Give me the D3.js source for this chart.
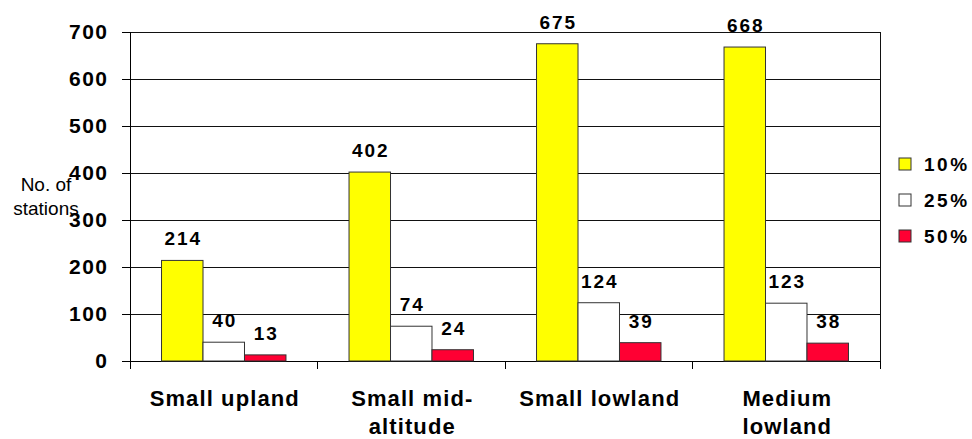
<!DOCTYPE html>
<html><head><meta charset="utf-8">
<script src="https://cdn.jsdelivr.net/npm/d3@7"></script>
<style>body{margin:0;background:#fff;}svg{display:block;font-family:"Liberation Sans",Arial,sans-serif;}</style>
</head><body>
<svg id="chart" width="972" height="439"></svg>
<script>
const categories = [["Small upland"], ["Small mid-", "altitude"], ["Small lowland"], ["Medium", "lowland"]];
const seriesNames = ["10%", "25%", "50%"];
const values10 = [214, 402, 675, 668];
const values25 = [40, 74, 124, 123];
const values50 = [13, 24, 39, 38];
const yTicks = [0, 100, 200, 300, 400, 500, 600, 700];
const colors = ["#FFFF00", "#FFFFFF", "#FF0033"];

const series = [values10, values25, values50];
const svg = d3.select("#chart");
const m = {l: 130, r: 880, t: 32, b: 361};

const x = d3.scaleBand().domain(d3.range(categories.length)).range([m.l, m.r]).paddingInner(0).paddingOuter(0);
const xi = d3.scaleBand().domain(d3.range(series.length)).range([0, x.bandwidth()]).paddingInner(0).paddingOuter(0.76);
const y = d3.scaleLinear().domain([0, 700]).range([m.b, m.t]);

// gridlines
svg.append("g").selectAll("line").data(yTicks.filter(d => d > 0)).join("line")
  .attr("x1", m.l).attr("x2", m.r).attr("y1", d => y(d)).attr("y2", d => y(d))
  .attr("stroke", "#111").attr("stroke-width", 1).attr("shape-rendering", "crispEdges");
// right border
svg.append("line").attr("x1", m.r).attr("x2", m.r).attr("y1", m.t).attr("y2", m.b)
  .attr("stroke", "#111").attr("shape-rendering", "crispEdges");

// y axis
const yAxis = d3.axisLeft(y).tickValues(yTicks).tickSize(8).tickPadding(13.5).tickFormat(d3.format("d"));
const gy = svg.append("g").attr("transform", `translate(${m.l},0)`).call(yAxis);
gy.select(".domain").attr("stroke", "#000").attr("shape-rendering", "crispEdges");
gy.selectAll(".tick line").attr("stroke", "#000").attr("shape-rendering", "crispEdges");
gy.selectAll("text").attr("font-size", 21).attr("font-weight", "bold").attr("fill", "#000")
  .attr("font-family", "Liberation Sans, Arial, sans-serif").style("letter-spacing", "1.5px");

// x axis
const gx = svg.append("g").attr("transform", `translate(0,${m.b})`);
gx.append("line").attr("x1", m.l).attr("x2", m.r).attr("y1", 0).attr("y2", 0).attr("stroke", "#000").attr("shape-rendering", "crispEdges");
const boundaries = d3.range(categories.length + 1).map(i => i < categories.length ? x(i) : x(i - 1) + x.bandwidth());
gx.selectAll("line.tk").data(boundaries).join("line").attr("class", "tk")
  .attr("x1", d => d).attr("x2", d => d).attr("y1", 0).attr("y2", 8)
  .attr("stroke", "#000").attr("shape-rendering", "crispEdges");
gx.selectAll("text.cat").data(categories).join("text").attr("class", "cat")
  .attr("x", (d, i) => x(i) + x.bandwidth() / 2 + 1)
  .attr("text-anchor", "middle").attr("font-size", 22).attr("font-weight", "bold")
  .style("letter-spacing", "1.1px")
  .each(function(d) {
    d3.select(this).selectAll("tspan").data(d).join("tspan")
      .attr("x", d3.select(this).attr("x")).attr("y", (t, j) => 45 + j * 28).text(t => t);
  });

// bars
const groups = svg.append("g").selectAll("g").data(categories).join("g")
  .attr("transform", (d, i) => `translate(${x(i)},0)`);
series.forEach((vals, s) => {
  groups.append("rect")
    .attr("x", xi(s)).attr("width", xi.bandwidth())
    .attr("y", (d, i) => y(vals[i])).attr("height", (d, i) => y(0) - y(vals[i]))
    .attr("fill", colors[s]).attr("stroke", "#333").attr("stroke-width", 1);
  groups.append("text")
    .attr("x", xi(s) + xi.bandwidth() / 2 + 1).attr("y", (d, i) => y(vals[i]) - 15)
    .attr("text-anchor", "middle").attr("font-size", 19).attr("font-weight", "bold")
    .style("letter-spacing", "2px")
    .text((d, i) => vals[i]);
});

// y title
const yt = svg.append("text").attr("font-size", 19).attr("text-anchor", "middle");
yt.append("tspan").attr("x", 46).attr("y", 191).text("No. of");
yt.append("tspan").attr("x", 46).attr("y", 215).text("stations");

// legend
const leg = svg.append("g").selectAll("g").data(seriesNames).join("g")
  .attr("transform", (d, i) => `translate(899,${158 + i * 36})`);
leg.append("rect").attr("width", 12).attr("height", 12).attr("fill", (d, i) => colors[i]).attr("stroke", "#333");
leg.append("text").attr("x", 25).attr("y", 13).attr("font-size", 19).attr("font-weight", "bold")
  .style("letter-spacing", "2.5px").text(d => d);
</script>
</body></html>
